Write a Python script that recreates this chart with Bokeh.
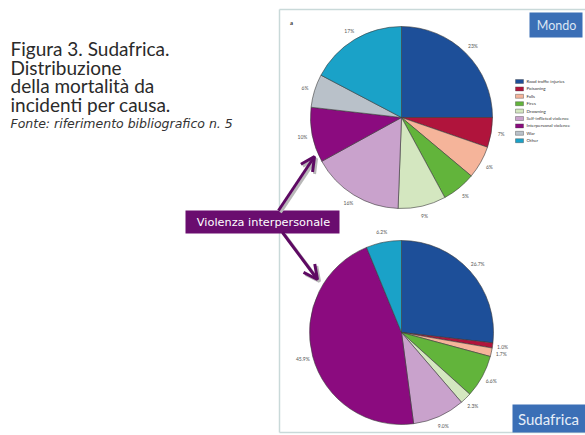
import math
from bokeh.plotting import figure
from bokeh.models import Range1d, Arrow, OpenHead, ColumnDataSource
from bokeh.core.properties import value
from bokeh.embed import file_html
from bokeh.resources import INLINE

# ---------------- data ----------------
causes = ["Road traffic injuries", "Poisoning", "Falls", "Fires", "Drowning",
          "Self-inflicted violence", "Interpersonal violence", "War", "Other"]
colors = ["#1d4f99", "#b0143c", "#f5b49a", "#62b43b", "#d4e7c0",
          "#c9a2cc", "#8b0b7f", "#b9c1c9", "#1aa2c8"]
mondo_values = [25.0, 5.3, 5.8, 6.0, 8.5, 16.4, 9.8, 5.9, 17.3]
mondo_labels = ["23%", "7%", "6%", "5%", "9%", "16%", "10%", "6%", "17%"]
sudafrica_values = [26.8, 0.9, 1.5, 7.5, 2.0, 9.2, 45.9, 0.0, 6.2]
sudafrica_labels = ["26.7%", "1.0%", "1.7%", "6.6%", "2.3%", "9.0%", "45.9%", "", "6.2%"]

title_lines = ["Figura 3. Sudafrica.", "Distribuzione", "della mortalità da",
               "incidenti per causa."]
source_line = "Fonte: riferimento bibliografico n. 5"
callout = "Violenza interpersonale"

W, H = 585, 435
FONT = "Lato"


def Y(py):
    return H - py


p = figure(width=W, height=H, output_backend="svg", toolbar_location=None,
           x_range=Range1d(0, W), y_range=Range1d(0, H),
           x_axis_type=None, y_axis_type=None, min_border=0)
p.outline_line_color = None
p.grid.visible = False
p.background_fill_color = "white"
p.border_fill_color = "white"

# frame of the figure panel
p.line(x=[279, 279], y=[Y(9), Y(432)], line_color="#c9d9d9", line_width=1.5)
p.line(x=[279, 600], y=[Y(9), Y(9)], line_color="#c9d9d9", line_width=1.5)
p.line(x=[279, 600], y=[Y(432), Y(432)], line_color="#c9d9d9", line_width=1.5)
p.text(x=[291], y=[Y(22)], text=["a"], text_font=value(FONT), text_font_size="6px",
       text_font_style="bold", text_color="#333333", text_align="center",
       text_baseline="middle")


def pie(cx, cy, r, vals, labels):
    total = sum(vals)
    starts, ends, cols, lx, ly, lt = [], [], [], [], [], []
    acc = 0.0
    for v, lab, c in zip(vals, labels, colors):
        a0 = acc / total * 2 * math.pi
        acc += v
        a1 = acc / total * 2 * math.pi
        if v <= 0:
            continue
        starts.append(math.pi / 2 - a1)
        ends.append(math.pi / 2 - a0)
        cols.append(c)
        mid = (a0 + a1) / 2
        lx.append(cx + 1.11 * r * math.sin(mid))
        ly.append(Y(cy) + 1.11 * r * math.cos(mid))
        lt.append(lab)
    src = ColumnDataSource(dict(start=starts, end=ends, color=cols))
    p.wedge(x=cx, y=Y(cy), radius=r, start_angle="start", end_angle="end",
            fill_color="color", line_color="#3a3a3a", line_width=0.6, source=src)
    p.text(x=lx, y=ly, text=lt, text_font=value(FONT), text_font_size="5px",
           text_color="#555555", text_align="center", text_baseline="middle")


pie(401, 117, 91, mondo_values, mondo_labels)
pie(401, 332, 92, sudafrica_values, sudafrica_labels)

# legend
ly0, dy = 81, 7.4
lys = [Y(ly0 + i * dy) for i in range(len(causes))]
p.rect(x=[519] * len(causes), y=lys, width=8, height=4, fill_color=colors,
       line_color="#444444", line_width=0.4)
p.text(x=[526] * len(causes), y=lys, text=causes, text_font=value(FONT),
       text_font_size="4.5px", text_color="#333333", text_baseline="middle")

# region boxes
p.quad(left=[529], right=[582], top=[Y(12)], bottom=[Y(37)], fill_color="#3b6fb6",
       line_color=None)
p.text(x=[556], y=[Y(25)], text=["Mondo"], text_font=value(FONT), text_font_size="12.5px",
       text_color="#dce6f4", text_align="center", text_baseline="middle")
p.quad(left=[512], right=[585], top=[Y(404)], bottom=[Y(432)], fill_color="#3b6fb6",
       line_color=None)
p.text(x=[548], y=[Y(418)], text=["Sudafrica"], text_font=value(FONT),
       text_font_size="15px", text_color="#e6eef8", text_align="center",
       text_baseline="middle")

# title text
p.text(x=[10] * len(title_lines), y=[Y(48 + i * 18.6) for i in range(len(title_lines))],
       text=title_lines, text_font=value(FONT), text_font_size="19px",
       text_color="#2a2a2a", text_baseline="middle")
p.text(x=[10], y=[Y(123)], text=[source_line], text_font=value("DejaVu Sans"),
       text_font_size="12.5px", text_font_style="italic", text_color="#333333",
       text_baseline="middle")

# arrows (shadow + main)
for (x0, y0, x1, y1) in [(278, 210, 314, 156), (282, 232, 317, 279)]:
    p.add_layout(Arrow(x_start=x0 + 2, y_start=Y(y0) - 2, x_end=x1 + 2, y_end=Y(y1) - 2,
                       line_color="#b8b8b8", line_width=3,
                       end=OpenHead(size=14, line_color="#b8b8b8", line_width=3)))
    p.add_layout(Arrow(x_start=x0, y_start=Y(y0), x_end=x1, y_end=Y(y1),
                       line_color="#5e0a63", line_width=3,
                       end=OpenHead(size=14, line_color="#5e0a63", line_width=3)))

# callout box
p.quad(left=[185], right=[339], top=[Y(210)], bottom=[Y(233)], fill_color="#6a0d6f",
       line_color=None)
p.text(x=[263], y=[Y(221.5)], text=[callout], text_font=value("DejaVu Sans"),
       text_font_size="11.3px", text_color="white", text_align="center",
       text_baseline="middle")

open("out.html", "w").write(file_html(p, INLINE))
